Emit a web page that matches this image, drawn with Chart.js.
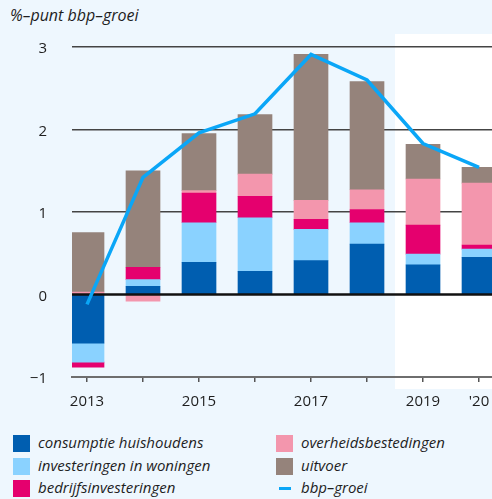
<!DOCTYPE html>
<html>
<head>
<meta charset="utf-8">
<script src="https://cdn.jsdelivr.net/npm/chart.js@4/dist/chart.umd.min.js"></script>
<style>
    body {
        margin: 0;
        width: 492px;
        height: 499px;
        overflow: hidden;
        position: relative;
        background: #EEF7FE;
        font-family: 'Open Sans', sans-serif;
        color: #1e1e1e;
    }
    #title {
        position: absolute;
        left: 10px;
        top: 4px;
        font-size: 16px;
        font-style: italic;
    }
    #chartBox {
        position: absolute;
        left: 0;
        top: 0;
    }
    .legendItem {
        position: absolute;
        font-size: 15px;
        font-style: italic;
        line-height: 17px;
        white-space: nowrap;
    }
    .legendItem .swatch {
        position: absolute;
        left: 0;
        top: 0;
        width: 17px;
        height: 17px;
    }
    .legendItem .dash {
        position: absolute;
        left: 3px;
        top: 7px;
        width: 12px;
        height: 3px;
    }
    .legendItem span {
        position: absolute;
        left: 25px;
        top: -1px;
    }
</style>
</head>
<body>
<div id="title">%–punt bbp–groei</div>
<canvas id="chartBox" width="492" height="420"></canvas>
<div id="legend"></div>
<script>
// Years on the x axis and the labels shown under the tick marks
const years = [2013, 2014, 2015, 2016, 2017, 2018, 2019, 2020];
const yearLabels = ['2013', '', '2015', '', '2017', '', '2019', "'20"];

// Contributions to GDP growth (%-point)
const consumptieHuishoudens = [-0.59, 0.10, 0.39, 0.28, 0.41, 0.61, 0.36, 0.45];
const investeringenWoningen = [-0.23, 0.08, 0.48, 0.65, 0.38, 0.26, 0.13, 0.10];
const bedrijfsinvesteringen = [-0.06, 0.15, 0.36, 0.26, 0.12, 0.16, 0.35, 0.05];
const overheidsbestedingen = [0.03, -0.08, 0.03, 0.27, 0.23, 0.24, 0.56, 0.75];
const uitvoer = [0.72, 1.17, 0.69, 0.72, 1.77, 1.31, 0.42, 0.19];
const bbpGroei = [-0.12, 1.42, 1.96, 2.19, 2.91, 2.60, 1.83, 1.54];

const barSeries = [
    { label: 'consumptie huishoudens', values: consumptieHuishoudens, color: '#005EB0' },
    { label: 'investeringen in woningen', values: investeringenWoningen, color: '#8AD2FF' },
    { label: 'bedrijfsinvesteringen', values: bedrijfsinvesteringen, color: '#E5006E' },
    { label: 'overheidsbestedingen', values: overheidsbestedingen, color: '#F396AD' },
    { label: 'uitvoer', values: uitvoer, color: '#95837B' }
];
const lineColor = '#0AA6F7';

document.addEventListener('DOMContentLoaded', (event) => {
    buildLegend();
    const ctx = document.getElementById('chartBox').getContext('2d');
    new Chart(ctx, getChartConfig());
});

function toPoints(values) {
    return years.map((year, i) => ({ x: year, y: values[i] }));
}

function getChartConfig() {
    const datasets = [{
        type: 'line',
        label: 'bbp–groei',
        data: toPoints(bbpGroei),
        stack: 'bbp', // own stack so the line is not added on top of the bars
        order: 0,
        borderColor: lineColor,
        borderWidth: 3.5,
        pointRadius: 0,
        tension: 0,
        fill: false
    }];
    barSeries.forEach((s) => {
        datasets.push({
            type: 'bar',
            label: s.label,
            data: toPoints(s.values),
            stack: 'bars',
            order: 1,
            backgroundColor: s.color,
            barThickness: 34
        });
    });

    // White band behind the forecast years
    const forecastBg = {
        id: 'forecastBg',
        beforeDraw(chart) {
            const area = chart.chartArea;
            const x0 = chart.scales.x.getPixelForValue(2018.5);
            const c = chart.ctx;
            c.save();
            c.fillStyle = '#FFFFFF';
            c.fillRect(x0, area.top - 13, chart.width - x0, area.bottom - area.top + 25);
            c.restore();
        }
    };

    // Thick zero line over the bars, under the growth line
    const zeroLine = {
        id: 'zeroLine',
        beforeDatasetDraw(chart, args) {
            if (args.meta.type !== 'line') return;
            const area = chart.chartArea;
            const y0 = chart.scales.y.getPixelForValue(0);
            const c = chart.ctx;
            c.save();
            c.strokeStyle = '#111111';
            c.lineWidth = 2.5;
            c.beginPath();
            c.moveTo(area.left, y0);
            c.lineTo(area.right, y0);
            c.stroke();
            c.restore();
        }
    };

    return {
        type: 'bar',
        data: { datasets: datasets },
        plugins: [forecastBg, zeroLine],
        options: {
            responsive: false,
            animation: false,
            devicePixelRatio: 1,
            layout: { padding: { top: 47, left: 0, right: 0, bottom: 0 } },
            scales: {
                x: {
                    type: 'linear',
                    min: 2012.732,
                    max: 2020.232,
                    offset: false,
                    stacked: true,
                    afterBuildTicks: (scale) => {
                        scale.ticks = years.map((v) => ({ value: v }));
                    },
                    afterFit: (scale) => {
                        scale.height = 43;
                        // let the last label run to the edge instead of shrinking the plot
                        scale.paddingLeft = 0;
                        scale.paddingRight = 0;
                    },
                    ticks: {
                        autoSkip: false,
                        maxRotation: 0,
                        padding: 11,
                        color: '#1e1e1e',
                        font: { family: 'Open Sans', size: 15 },
                        callback: (value) => yearLabels[years.indexOf(value)]
                    },
                    grid: {
                        offset: false,
                        drawOnChartArea: false,
                        drawTicks: true,
                        tickLength: 5,
                        color: '#555555',
                        lineWidth: 1.5
                    },
                    border: { color: '#6E6E6E', width: 2 }
                },
                y: {
                    min: -1,
                    max: 3,
                    stacked: true,
                    afterFit: (scale) => {
                        scale.width = 72;
                    },
                    ticks: {
                        stepSize: 1,
                        padding: 25,
                        labelOffset: 2,
                        color: '#1e1e1e',
                        font: { family: 'Open Sans', size: 15 },
                        callback: (value) => (value < 0 ? '−' + Math.abs(value) : String(value))
                    },
                    grid: {
                        drawTicks: false,
                        lineWidth: 1.5,
                        color: (c) => (c.tick && c.tick.value > 0 ? '#444444' : 'rgba(0,0,0,0)')
                    },
                    border: { display: false }
                }
            },
            plugins: {
                legend: { display: false },
                tooltip: { enabled: false }
            }
        }
    };
}

function buildLegend() {
    const legend = document.getElementById('legend');
    const items = barSeries.map((s) => ({ label: s.label, color: s.color, line: false }));
    items.push({ label: 'bbp–groei', color: lineColor, line: true });

    // Two columns, filled top to bottom
    items.forEach((item, i) => {
        const col = Math.floor(i / 3);
        const row = i % 3;
        const div = document.createElement('div');
        div.className = 'legendItem';
        div.style.left = (col === 0 ? 13 : 276) + 'px';
        div.style.top = (435 + row * 22.5) + 'px';
        const mark = document.createElement('div');
        mark.className = item.line ? 'dash' : 'swatch';
        mark.style.background = item.color;
        const text = document.createElement('span');
        text.textContent = item.label;
        div.appendChild(mark);
        div.appendChild(text);
        legend.appendChild(div);
    });
}
</script>
</body>
</html>
